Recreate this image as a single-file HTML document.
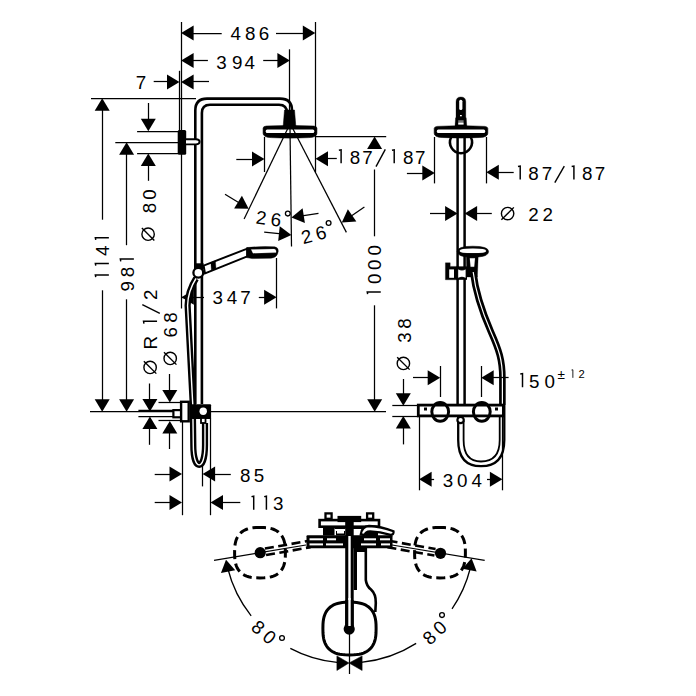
<!DOCTYPE html>
<html><head><meta charset="utf-8"><style>
html,body{margin:0;padding:0;background:#fff;}
svg{display:block;}
text{font-family:"Liberation Sans",sans-serif;text-anchor:middle;fill:#000;stroke:none;}
</style></head><body>
<svg width="696" height="696" viewBox="0 0 696 696" stroke="#000" fill="#000" stroke-linecap="butt">
<rect x="0" y="0" width="696" height="696" fill="#fff" stroke="none"/>
<line x1="181.50" y1="22.00" x2="181.50" y2="308.40" stroke-width="1.25"/>
<line x1="179.50" y1="70.80" x2="179.50" y2="131.00" stroke-width="1.25"/>
<line x1="315.50" y1="22.00" x2="315.50" y2="172.00" stroke-width="1.25"/>
<line x1="289.50" y1="49.30" x2="289.50" y2="112.00" stroke-width="1.25"/>
<line x1="221.70" y1="33.50" x2="188.60" y2="33.50" stroke-width="1.25"/>
<polygon points="181.10,33.00 193.60,25.50 193.60,40.50" stroke="none"/>
<line x1="276.00" y1="33.50" x2="307.80" y2="33.50" stroke-width="1.25"/>
<polygon points="315.30,33.00 302.80,40.50 302.80,25.50" stroke="none"/>
<text transform="translate(235.10,33.20) rotate(0) scale(1.0,1)" x="0.51" y="7.11" style="font-size:18.8px">4</text>
<text transform="translate(249.70,33.20) rotate(0) scale(1.0,1)" x="0.51" y="7.11" style="font-size:18.8px">8</text>
<text transform="translate(263.50,33.20) rotate(0) scale(1.0,1)" x="0.51" y="7.11" style="font-size:18.8px">6</text>
<line x1="207.90" y1="60.50" x2="188.60" y2="60.50" stroke-width="1.25"/>
<polygon points="181.10,60.60 193.60,53.10 193.60,68.10" stroke="none"/>
<line x1="263.20" y1="60.50" x2="282.40" y2="60.50" stroke-width="1.25"/>
<polygon points="289.90,60.60 277.40,68.10 277.40,53.10" stroke="none"/>
<text transform="translate(221.00,61.40) rotate(0) scale(1.0,1)" x="0.51" y="7.11" style="font-size:18.8px">3</text>
<text transform="translate(236.70,61.40) rotate(0) scale(1.0,1)" x="0.51" y="7.11" style="font-size:18.8px">9</text>
<text transform="translate(249.20,61.40) rotate(0) scale(1.0,1)" x="0.51" y="7.11" style="font-size:18.8px">4</text>
<line x1="153.70" y1="81.50" x2="172.00" y2="81.50" stroke-width="1.25"/>
<polygon points="179.50,81.90 167.00,89.40 167.00,74.40" stroke="none"/>
<line x1="209.00" y1="81.50" x2="188.60" y2="81.50" stroke-width="1.25"/>
<polygon points="181.10,81.90 193.60,74.40 193.60,89.40" stroke="none"/>
<text transform="translate(140.40,82.20) rotate(0) scale(1.0,1)" x="0.51" y="7.11" style="font-size:18.8px">7</text>
<line x1="91.00" y1="98.50" x2="196.00" y2="98.50" stroke-width="1.25"/>
<line x1="137.10" y1="131.50" x2="178.00" y2="131.50" stroke-width="1.25"/>
<line x1="115.30" y1="142.50" x2="178.00" y2="142.50" stroke-width="1.25"/>
<line x1="137.10" y1="153.50" x2="178.00" y2="153.50" stroke-width="1.25"/>
<line x1="148.50" y1="103.00" x2="148.50" y2="123.80" stroke-width="1.25"/>
<polygon points="148.30,131.30 140.80,118.80 155.80,118.80" stroke="none"/>
<line x1="148.50" y1="180.80" x2="148.50" y2="160.90" stroke-width="1.25"/>
<polygon points="148.30,153.40 155.80,165.90 140.80,165.90" stroke="none"/>
<text transform="translate(148.60,195.00) rotate(-90) scale(1.0,1)" x="0.51" y="7.11" style="font-size:18.8px">0</text>
<text transform="translate(148.60,208.50) rotate(-90) scale(1.0,1)" x="0.51" y="7.11" style="font-size:18.8px">8</text>
<circle cx="148.10" cy="234.20" r="6.2" fill="none" stroke-width="1.4"/>
<line x1="141.88" y1="227.98" x2="154.32" y2="240.42" stroke-width="1.4"/>
<line x1="102.50" y1="219.70" x2="102.50" y2="105.70" stroke-width="1.25"/>
<polygon points="102.20,98.20 109.70,110.70 94.70,110.70" stroke="none"/>
<line x1="102.50" y1="290.30" x2="102.50" y2="404.20" stroke-width="1.25"/>
<polygon points="102.20,411.70 94.70,399.20 109.70,399.20" stroke="none"/>
<g transform="translate(102.10,238.30) rotate(-90)"><path d="M0.61,6.76 L0.61,-6.76 L-1.63,-6.35" fill="none" stroke-width="1.47" stroke-linejoin="miter"/></g>
<text transform="translate(102.10,251.30) rotate(-90) scale(1.0,1)" x="0.51" y="7.11" style="font-size:18.8px">4</text>
<g transform="translate(102.10,264.00) rotate(-90)"><path d="M0.61,6.76 L0.61,-6.76 L-1.63,-6.35" fill="none" stroke-width="1.47" stroke-linejoin="miter"/></g>
<g transform="translate(102.10,275.50) rotate(-90)"><path d="M0.61,6.76 L0.61,-6.76 L-1.63,-6.35" fill="none" stroke-width="1.47" stroke-linejoin="miter"/></g>
<line x1="126.50" y1="245.20" x2="126.50" y2="149.80" stroke-width="1.25"/>
<polygon points="126.60,142.30 134.10,154.80 119.10,154.80" stroke="none"/>
<line x1="126.50" y1="299.30" x2="126.50" y2="404.20" stroke-width="1.25"/>
<polygon points="126.60,411.70 119.10,399.20 134.10,399.20" stroke="none"/>
<g transform="translate(127.10,259.70) rotate(-90)"><path d="M0.61,6.76 L0.61,-6.76 L-1.63,-6.35" fill="none" stroke-width="1.47" stroke-linejoin="miter"/></g>
<text transform="translate(127.10,272.50) rotate(-90) scale(1.0,1)" x="0.51" y="7.11" style="font-size:18.8px">8</text>
<text transform="translate(127.10,286.80) rotate(-90) scale(1.0,1)" x="0.51" y="7.11" style="font-size:18.8px">9</text>
<text transform="translate(150.30,295.40) rotate(-90) scale(1.0,1)" x="0.51" y="7.11" style="font-size:18.8px">2</text>
<line x1="142.30" y1="304.70" x2="159.80" y2="313.30" stroke-width="1.35"/>
<g transform="translate(150.30,321.90) rotate(-90)"><path d="M0.61,6.76 L0.61,-6.76 L-1.63,-6.35" fill="none" stroke-width="1.47" stroke-linejoin="miter"/></g>
<text transform="translate(150.30,343.30) rotate(-90) scale(1.0,1)" x="0.51" y="7.11" style="font-size:18.8px">R</text>
<circle cx="150.10" cy="367.40" r="6.2" fill="none" stroke-width="1.4"/>
<line x1="143.88" y1="361.18" x2="156.32" y2="373.62" stroke-width="1.4"/>
<line x1="149.50" y1="383.50" x2="149.50" y2="404.10" stroke-width="1.25"/>
<polygon points="149.90,411.60 142.40,399.10 157.40,399.10" stroke="none"/>
<line x1="149.50" y1="444.80" x2="149.50" y2="424.00" stroke-width="1.25"/>
<polygon points="149.90,416.50 157.40,429.00 142.40,429.00" stroke="none"/>
<text transform="translate(170.30,318.10) rotate(-90) scale(1.0,1)" x="0.51" y="7.11" style="font-size:18.8px">8</text>
<text transform="translate(170.30,332.70) rotate(-90) scale(1.0,1)" x="0.51" y="7.11" style="font-size:18.8px">6</text>
<circle cx="170.20" cy="358.40" r="6.2" fill="none" stroke-width="1.4"/>
<line x1="163.98" y1="352.18" x2="176.42" y2="364.62" stroke-width="1.4"/>
<line x1="169.50" y1="374.00" x2="169.50" y2="395.10" stroke-width="1.25"/>
<polygon points="169.80,402.60 162.30,390.10 177.30,390.10" stroke="none"/>
<line x1="169.50" y1="449.00" x2="169.50" y2="428.40" stroke-width="1.25"/>
<polygon points="169.80,420.90 177.30,433.40 162.30,433.40" stroke="none"/>
<line x1="158.50" y1="402.50" x2="181.00" y2="402.50" stroke-width="1.25"/>
<line x1="158.50" y1="420.50" x2="181.00" y2="420.50" stroke-width="1.25"/>
<line x1="138.40" y1="416.50" x2="173.00" y2="416.50" stroke-width="1.25"/>
<line x1="90.00" y1="411.50" x2="173.00" y2="411.50" stroke-width="1.25"/>
<line x1="138.40" y1="410.40" x2="173.00" y2="410.40" stroke-width="1.4"/>
<line x1="211.00" y1="411.50" x2="386.00" y2="411.50" stroke-width="1.25"/>
<path d="M195.3,404 L195.3,110.5 Q195.3,98.6 207,98.6 L280,98.6 Q292,98.6 292,110.5 L292,113" fill="none" stroke-width="2.6" />
<path d="M201.9,404 L201.9,113 Q201.9,104.8 210,104.8 L279,104.8 Q287,104.8 287,113 L287,113" fill="none" stroke-width="2.6" />
<rect x="177.7" y="130" width="8.5" height="24.7" rx="1.5" stroke="none"/>
<path d="M186,139.3 L196,139.3 Q199.6,139.5 199.6,141.8 Q199.6,144.2 196,144.4 L186,144.4" fill="#fff" stroke-width="1.9" />
<polygon points="284.50,110.00 294.50,110.00 295.80,126.00 283.20,126.00" fill="#000" stroke-width="0.5" />
<path d="M263.1,128.10 Q263.1,126.40 266.1,126.10 Q290.0,124.70 313.9,126.10 Q316.9,126.40 316.9,128.10 L316.9,133.30 Q316.9,137.30 308.9,137.60 Q290.0,138.60 271.1,137.60 Q263.1,137.30 263.1,133.30 Z" fill="#000" stroke-width="0.6" />
<rect x="265.70000000000005" y="129.6" width="48.59999999999995" height="3.4000000000000057" rx="1.5" fill="#fff" stroke="none"/>
<line x1="288.00" y1="128.00" x2="244.10" y2="219.00" stroke-width="1.25"/>
<line x1="292.50" y1="128.00" x2="346.40" y2="232.40" stroke-width="1.25"/>
<line x1="290.00" y1="128.00" x2="291.50" y2="246.50" stroke-width="1.25"/>
<line x1="264.50" y1="137.00" x2="264.50" y2="172.00" stroke-width="1.25"/>
<line x1="236.30" y1="159.50" x2="257.00" y2="159.50" stroke-width="1.25"/>
<polygon points="264.50,159.00 252.00,166.50 252.00,151.50" stroke="none"/>
<line x1="336.80" y1="158.50" x2="323.00" y2="158.50" stroke-width="1.25"/>
<polygon points="315.50,158.80 328.00,151.30 328.00,166.30" stroke="none"/>
<g transform="translate(340.50,156.60) rotate(0)"><path d="M0.61,6.76 L0.61,-6.76 L-1.63,-6.35" fill="none" stroke-width="1.47" stroke-linejoin="miter"/></g>
<text transform="translate(354.40,156.60) rotate(0) scale(1.0,1)" x="0.51" y="7.11" style="font-size:18.8px">8</text>
<text transform="translate(367.00,156.60) rotate(0) scale(1.0,1)" x="0.51" y="7.11" style="font-size:18.8px">7</text>
<line x1="376.00" y1="166.60" x2="385.30" y2="149.30" stroke-width="1.4"/>
<g transform="translate(393.60,156.60) rotate(0)"><path d="M0.61,6.76 L0.61,-6.76 L-1.63,-6.35" fill="none" stroke-width="1.47" stroke-linejoin="miter"/></g>
<text transform="translate(407.60,156.60) rotate(0) scale(1.0,1)" x="0.51" y="7.11" style="font-size:18.8px">8</text>
<text transform="translate(419.80,156.60) rotate(0) scale(1.0,1)" x="0.51" y="7.11" style="font-size:18.8px">7</text>
<line x1="316.00" y1="136.50" x2="386.20" y2="136.50" stroke-width="1.25"/>
<polygon points="374.60,136.60 382.10,149.10 367.10,149.10" stroke="none"/>
<line x1="374.50" y1="169.50" x2="374.50" y2="236.30" stroke-width="1.25"/>
<g transform="translate(374.00,292.60) rotate(-90)"><path d="M0.61,6.76 L0.61,-6.76 L-1.63,-6.35" fill="none" stroke-width="1.47" stroke-linejoin="miter"/></g>
<text transform="translate(374.00,279.30) rotate(-90) scale(1.0,1)" x="0.51" y="7.11" style="font-size:18.8px">0</text>
<text transform="translate(374.00,265.20) rotate(-90) scale(1.0,1)" x="0.51" y="7.11" style="font-size:18.8px">0</text>
<text transform="translate(374.00,250.70) rotate(-90) scale(1.0,1)" x="0.51" y="7.11" style="font-size:18.8px">0</text>
<line x1="374.50" y1="305.30" x2="374.50" y2="404.20" stroke-width="1.25"/>
<polygon points="374.70,411.70 367.20,399.20 382.20,399.20" stroke="none"/>
<line x1="225.00" y1="194.30" x2="242.29" y2="204.81" stroke-width="1.25"/>
<polygon points="248.70,208.70 234.12,208.62 241.91,195.80" stroke="none"/>
<line x1="318.50" y1="213.30" x2="298.81" y2="216.35" stroke-width="1.25"/>
<polygon points="291.40,217.50 302.60,208.17 304.90,223.00" stroke="none"/>
<line x1="264.20" y1="232.10" x2="283.94" y2="234.13" stroke-width="1.25"/>
<polygon points="291.40,234.90 278.20,241.08 279.73,226.16" stroke="none"/>
<line x1="364.40" y1="207.00" x2="347.99" y2="218.26" stroke-width="1.25"/>
<polygon points="341.80,222.50 347.87,209.24 356.35,221.62" stroke="none"/>
<text transform="translate(260.70,217.10) rotate(7) scale(1.0,1)" x="0.51" y="7.11" style="font-size:18.8px">2</text>
<text transform="translate(275.50,219.00) rotate(7) scale(1.0,1)" x="0.51" y="7.11" style="font-size:18.8px">6</text>
<circle cx="287.80" cy="213.60" r="2.4" fill="none" stroke-width="1.3"/>
<text transform="translate(306.00,236.20) rotate(-15) scale(1.0,1)" x="0.51" y="7.11" style="font-size:18.8px">2</text>
<text transform="translate(320.10,232.30) rotate(-15) scale(1.0,1)" x="0.51" y="7.11" style="font-size:18.8px">6</text>
<circle cx="328.60" cy="223.00" r="2.4" fill="none" stroke-width="1.3"/>
<polygon points="203.60,265.60 247.30,248.60 247.30,256.40 205.00,273.40" fill="#fff" stroke-width="2.0" />
<polygon points="210.80,262.60 215.40,260.80 216.00,268.40 211.40,270.20" fill="#000" stroke-width="0.3" />
<path d="M246.5,247.6 Q262,245.8 274.6,246.8 Q278.6,247.6 278.2,251.5 Q277.4,257.6 271,258.2 L252,258.6 L246.5,257.6 Z" fill="#000" stroke-width="0.4" />
<path d="M251.2,249.6 L274.2,249.1 Q276.6,249.6 276,252.6 L253,253.2 Z" fill="#fff" stroke-width="0.2" stroke="#fff"/>
<rect x="194" y="263.3" width="9.6" height="5.9" stroke="none"/>
<circle cx="198.3" cy="272.8" r="4.9" fill="#fff" stroke-width="2.3"/>
<line x1="276.50" y1="258.00" x2="276.50" y2="308.40" stroke-width="1.25"/>
<polygon points="181.40,297.20 193.90,289.70 193.90,304.70" stroke="none"/>
<line x1="181.40" y1="297.50" x2="204.00" y2="297.50" stroke-width="1.25"/>
<line x1="258.80" y1="297.50" x2="269.10" y2="297.50" stroke-width="1.25"/>
<polygon points="276.60,297.20 264.10,304.70 264.10,289.70" stroke="none"/>
<text transform="translate(217.30,297.10) rotate(0) scale(1.0,1)" x="0.51" y="7.11" style="font-size:18.8px">3</text>
<text transform="translate(231.50,297.10) rotate(0) scale(1.0,1)" x="0.51" y="7.11" style="font-size:18.8px">4</text>
<text transform="translate(245.00,297.10) rotate(0) scale(1.0,1)" x="0.51" y="7.11" style="font-size:18.8px">7</text>
<path d="M196,278.5 Q188,291 187.6,305.5 L192.8,405 L193.3,445 C193.3,471.5 205,471.5 205,445 L205,423" fill="none" stroke-width="6.2" />
<path d="M196,278.5 Q188,291 187.6,305.5 L192.8,405 L193.3,445 C193.3,471.5 205,471.5 205,445 L205,423" fill="none" stroke-width="1.4" stroke="#fff"/>
<rect x="173.4" y="410.1" width="7.7" height="7.2" fill="#fff" stroke-width="2.2"/>
<rect x="181.1" y="401.8" width="7.6" height="19.5" fill="#fff" stroke-width="2.4"/>
<rect x="191.5" y="404.3" width="19.6" height="14.8" rx="1" stroke="none"/>
<rect x="201" y="418" width="4.5" height="5" fill="#fff" stroke-width="1.8"/>
<circle cx="203.2" cy="411.3" r="3.7" fill="#fff" stroke="none"/>
<line x1="182.50" y1="421.00" x2="182.50" y2="515.20" stroke-width="1.25"/>
<line x1="202.50" y1="466.00" x2="202.50" y2="486.40" stroke-width="1.25"/>
<line x1="210.50" y1="418.00" x2="210.50" y2="515.20" stroke-width="1.25"/>
<line x1="154.70" y1="474.50" x2="174.50" y2="474.50" stroke-width="1.25"/>
<polygon points="182.00,474.00 169.50,481.50 169.50,466.50" stroke="none"/>
<line x1="230.80" y1="474.50" x2="210.10" y2="474.50" stroke-width="1.25"/>
<polygon points="202.60,474.00 215.10,466.50 215.10,481.50" stroke="none"/>
<text transform="translate(244.70,474.60) rotate(0) scale(1.0,1)" x="0.51" y="7.11" style="font-size:18.8px">8</text>
<text transform="translate(258.50,474.60) rotate(0) scale(1.0,1)" x="0.51" y="7.11" style="font-size:18.8px">5</text>
<line x1="154.70" y1="502.50" x2="174.50" y2="502.50" stroke-width="1.25"/>
<polygon points="182.00,502.40 169.50,509.90 169.50,494.90" stroke="none"/>
<line x1="240.30" y1="502.50" x2="218.00" y2="502.50" stroke-width="1.25"/>
<polygon points="210.50,502.40 223.00,494.90 223.00,509.90" stroke="none"/>
<g transform="translate(253.10,503.00) rotate(0)"><path d="M0.61,6.76 L0.61,-6.76 L-1.63,-6.35" fill="none" stroke-width="1.47" stroke-linejoin="miter"/></g>
<g transform="translate(265.80,503.00) rotate(0)"><path d="M0.61,6.76 L0.61,-6.76 L-1.63,-6.35" fill="none" stroke-width="1.47" stroke-linejoin="miter"/></g>
<text transform="translate(277.80,503.00) rotate(0) scale(1.0,1)" x="0.51" y="7.11" style="font-size:18.8px">3</text>
<path d="M456,125.6 L456,101.8 Q456,96.9 460.9,96.9 Q465.8,96.9 465.8,101.8 L465.8,125.6 Z" fill="#000" stroke-width="0.3" />
<polygon points="455.60,117.80 466.20,117.80 466.80,126.00 455.00,126.00" fill="#000" stroke-width="0.3" />
<rect x="459.2" y="99.8" width="3.2" height="10.3" rx="1.5" fill="#fff" stroke="none"/>
<rect x="458.2" y="122.4" width="5.4" height="2.2" fill="#fff" stroke="none"/>
<rect x="458.2" y="120.2" width="5.4" height="1.8" fill="#777" stroke="none"/>
<rect x="460" y="115" width="1.8" height="1.3" fill="#fff" stroke="none"/>
<path d="M451.3,137 A11,11 0 1 0 470.7,137" fill="none" stroke-width="2.5" />
<line x1="457.60" y1="136.00" x2="457.60" y2="405.00" stroke-width="2.5"/>
<line x1="464.60" y1="136.00" x2="464.60" y2="405.00" stroke-width="2.5"/>
<path d="M434.2,128.40 Q434.2,126.70 437.2,126.40 Q461.0,125.00 484.8,126.40 Q487.8,126.70 487.8,128.40 L487.8,133.20 Q487.8,137.20 479.8,137.50 Q461.0,138.50 442.2,137.50 Q434.2,137.20 434.2,133.20 Z" fill="#000" stroke-width="0.6" />
<rect x="436.8" y="129.4" width="48.40000000000002" height="3.5999999999999943" rx="1.5" fill="#fff" stroke="none"/>
<line x1="434.50" y1="137.00" x2="434.50" y2="183.40" stroke-width="1.25"/>
<line x1="486.50" y1="137.00" x2="486.50" y2="183.40" stroke-width="1.25"/>
<line x1="406.90" y1="173.50" x2="427.30" y2="173.50" stroke-width="1.25"/>
<polygon points="434.80,173.00 422.30,180.50 422.30,165.50" stroke="none"/>
<line x1="513.70" y1="172.50" x2="493.80" y2="172.50" stroke-width="1.25"/>
<polygon points="486.30,172.30 498.80,164.80 498.80,179.80" stroke="none"/>
<g transform="translate(519.60,172.80) rotate(0)"><path d="M0.61,6.76 L0.61,-6.76 L-1.63,-6.35" fill="none" stroke-width="1.47" stroke-linejoin="miter"/></g>
<text transform="translate(533.00,172.80) rotate(0) scale(1.0,1)" x="0.51" y="7.11" style="font-size:18.8px">8</text>
<text transform="translate(546.50,172.80) rotate(0) scale(1.0,1)" x="0.51" y="7.11" style="font-size:18.8px">7</text>
<line x1="554.80" y1="182.70" x2="564.30" y2="166.10" stroke-width="1.4"/>
<g transform="translate(573.30,172.80) rotate(0)"><path d="M0.61,6.76 L0.61,-6.76 L-1.63,-6.35" fill="none" stroke-width="1.47" stroke-linejoin="miter"/></g>
<text transform="translate(586.80,172.80) rotate(0) scale(1.0,1)" x="0.51" y="7.11" style="font-size:18.8px">8</text>
<text transform="translate(599.50,172.80) rotate(0) scale(1.0,1)" x="0.51" y="7.11" style="font-size:18.8px">7</text>
<line x1="430.00" y1="213.50" x2="450.10" y2="213.50" stroke-width="1.25"/>
<polygon points="457.60,213.50 445.10,221.00 445.10,206.00" stroke="none"/>
<line x1="491.80" y1="213.50" x2="472.10" y2="213.50" stroke-width="1.25"/>
<polygon points="464.60,213.50 477.10,206.00 477.10,221.00" stroke="none"/>
<circle cx="507.60" cy="213.60" r="6.2" fill="none" stroke-width="1.4"/>
<line x1="501.38" y1="219.82" x2="513.82" y2="207.38" stroke-width="1.4"/>
<text transform="translate(533.00,213.50) rotate(0) scale(1.0,1)" x="0.51" y="7.11" style="font-size:18.8px">2</text>
<text transform="translate(547.30,213.50) rotate(0) scale(1.0,1)" x="0.51" y="7.11" style="font-size:18.8px">2</text>
<path d="M457.2,251.6 Q457.2,246.2 472.8,246.2 Q488.6,246.2 488.6,251.6 Q488.6,257.2 472.8,257.2 Q457.2,257.2 457.2,251.6 Z" fill="#000" stroke-width="0.5" />
<path d="M459.6,250.9 Q459.6,248.6 472.8,248.6 Q486.2,248.6 486.2,250.9 Q486.2,253.1 472.8,253.1 Q459.6,253.1 459.6,250.9 Z" fill="#fff" stroke-width="0.1" stroke="#fff"/>
<polygon points="466.30,256.50 478.20,256.50 477.40,277.00 466.80,277.00" fill="#000" stroke-width="0.3" />
<polygon points="469.80,258.20 475.00,258.20 474.20,266.80 470.60,266.80" fill="#fff" stroke-width="0.1" stroke="#fff"/>
<polygon points="445.40,262.80 450.20,262.80 450.20,266.40 458.40,266.40 458.40,279.80 445.40,279.80" fill="#000" stroke-width="0.3" />
<rect x="449.2" y="269.4" width="4.8" height="8.4" fill="#fff" stroke="none"/>
<rect x="456.5" y="266.4" width="10.5" height="13.4" stroke="none"/>
<path d="M458.2,269.4 Q462,271.4 465.6,269.4 L465.6,277.8 Q462,275.8 458.2,277.8 Z" fill="#fff" stroke-width="0.1" stroke="#fff"/>
<path d="M473.2,272 C475.5,292 484,316 491,332 C499,350 502.4,360 502.4,378 L502.4,405" fill="none" stroke-width="6.6" />
<path d="M473.2,272 C475.5,292 484,316 491,332 C499,350 502.4,360 502.4,378 L502.4,405" fill="none" stroke-width="1.2" stroke="#fff"/>
<line x1="440.50" y1="366.00" x2="440.50" y2="397.00" stroke-width="1.25"/>
<line x1="481.50" y1="366.00" x2="481.50" y2="397.00" stroke-width="1.25"/>
<line x1="413.00" y1="377.50" x2="432.70" y2="377.50" stroke-width="1.25"/>
<polygon points="440.20,377.80 427.70,385.30 427.70,370.30" stroke="none"/>
<line x1="508.60" y1="377.50" x2="488.70" y2="377.50" stroke-width="1.25"/>
<polygon points="481.20,377.80 493.70,370.30 493.70,385.30" stroke="none"/>
<g transform="translate(521.90,380.40) rotate(0)"><path d="M0.61,6.76 L0.61,-6.76 L-1.63,-6.35" fill="none" stroke-width="1.47" stroke-linejoin="miter"/></g>
<text transform="translate(533.80,380.40) rotate(0) scale(1.0,1)" x="0.51" y="7.11" style="font-size:18.8px">5</text>
<text transform="translate(549.20,380.40) rotate(0) scale(1.0,1)" x="0.51" y="7.11" style="font-size:18.8px">0</text>
<text transform="translate(560.80,373.50) rotate(0) scale(1.0,1)" x="0.36" y="5.11" style="font-size:13.5px">±</text>
<g transform="translate(572.50,373.80) rotate(0)"><path d="M0.36,4.03 L0.36,-4.03 L-0.97,-3.78" fill="none" stroke-width="0.88" stroke-linejoin="miter"/></g>
<text transform="translate(581.20,373.80) rotate(0) scale(1.0,1)" x="0.30" y="4.24" style="font-size:11.2px">2</text>
<line x1="392.30" y1="405.50" x2="418.50" y2="405.50" stroke-width="1.25"/>
<line x1="392.30" y1="416.50" x2="418.50" y2="416.50" stroke-width="1.25"/>
<line x1="403.50" y1="379.00" x2="403.50" y2="398.30" stroke-width="1.25"/>
<polygon points="403.30,405.80 395.80,393.30 410.80,393.30" stroke="none"/>
<line x1="403.50" y1="444.40" x2="403.50" y2="423.60" stroke-width="1.25"/>
<polygon points="403.30,416.10 410.80,428.60 395.80,428.60" stroke="none"/>
<text transform="translate(404.00,324.00) rotate(-90) scale(1.0,1)" x="0.51" y="7.11" style="font-size:18.8px">8</text>
<text transform="translate(404.00,338.10) rotate(-90) scale(1.0,1)" x="0.51" y="7.11" style="font-size:18.8px">3</text>
<circle cx="403.40" cy="363.40" r="6.2" fill="none" stroke-width="1.4"/>
<line x1="397.18" y1="357.18" x2="409.62" y2="369.62" stroke-width="1.4"/>
<path d="M458.2,417 L458.2,440 Q458.2,466.2 481,466.2 Q504.3,466.2 504.3,440 L504.3,405" fill="none" stroke-width="2.3" />
<path d="M463.6,421 L463.6,440 Q463.6,461.5 481,461.5 Q499.7,461.5 499.7,440 L499.7,405" fill="none" stroke-width="1.8" />
<rect x="418.3" y="405.1" width="85.1" height="10.8" fill="#fff" stroke-width="2.8"/>
<ellipse cx="440.2" cy="411.8" rx="8.4" ry="9.4" fill="none" stroke-width="3.0"/>
<ellipse cx="481.8" cy="411.8" rx="8.4" ry="9.4" fill="none" stroke-width="3.0"/>
<rect x="424" y="407.5" width="3" height="3" stroke="none"/>
<rect x="495" y="407.5" width="3" height="3" stroke="none"/>
<circle cx="460.6" cy="420" r="3.2" fill="#fff" stroke-width="2.2"/>
<line x1="419.50" y1="416.00" x2="419.50" y2="490.30" stroke-width="1.25"/>
<line x1="502.50" y1="416.00" x2="502.50" y2="490.30" stroke-width="1.25"/>
<line x1="434.10" y1="479.50" x2="426.60" y2="479.50" stroke-width="1.25"/>
<polygon points="419.10,479.30 431.60,471.80 431.60,486.80" stroke="none"/>
<line x1="487.00" y1="479.50" x2="494.90" y2="479.50" stroke-width="1.25"/>
<polygon points="502.40,479.30 489.90,486.80 489.90,471.80" stroke="none"/>
<text transform="translate(447.50,479.50) rotate(0) scale(1.0,1)" x="0.51" y="7.11" style="font-size:18.8px">3</text>
<text transform="translate(461.70,479.50) rotate(0) scale(1.0,1)" x="0.51" y="7.11" style="font-size:18.8px">0</text>
<text transform="translate(476.10,479.50) rotate(0) scale(1.0,1)" x="0.51" y="7.11" style="font-size:18.8px">4</text>
<path d="M227.71,568.24 A125,125 0 0 0 251.17,615.81" fill="none" stroke-width="1.3" />
<path d="M290.32,648.37 A125,125 0 0 0 337.02,662.42" fill="none" stroke-width="1.3" />
<path d="M360.98,662.42 A125,125 0 0 0 416.16,643.42" fill="none" stroke-width="1.3" />
<path d="M452.02,608.80 A125,125 0 0 0 470.29,568.24" fill="none" stroke-width="1.3" />
<polygon points="226.00,559.80 235.23,570.36 220.95,572.88" stroke="none"/>
<polygon points="471.60,558.30 476.65,571.38 462.37,568.86" stroke="none"/>
<polygon points="349.00,663.00 336.90,655.90 336.90,670.50" fill="#000" stroke-width="0.5" />
<polygon points="349.00,663.00 362.10,655.90 362.10,670.50" fill="#000" stroke-width="0.5" />
<line x1="349.50" y1="629.00" x2="349.50" y2="674.00" stroke-width="1.25"/>
<line x1="214.00" y1="560.40" x2="306.00" y2="545.00" stroke-width="1.25"/>
<line x1="392.00" y1="545.00" x2="484.70" y2="560.40" stroke-width="1.25"/>
<path d="M260.00,527.50 L264.17,527.57 L266.94,527.78 L269.33,528.14 L271.47,528.63 L273.42,529.27 L275.20,530.05 L276.83,530.96 L278.31,532.01 L279.65,533.21 L280.85,534.54 L281.91,536.01 L282.83,537.62 L283.61,539.39 L284.26,541.32 L284.76,543.44 L285.11,545.81 L285.33,548.57 L285.40,552.70 L285.33,556.83 L285.11,559.59 L284.76,561.96 L284.26,564.08 L283.61,566.01 L282.83,567.78 L281.91,569.39 L280.85,570.86 L279.65,572.19 L278.31,573.39 L276.83,574.44 L275.20,575.35 L273.42,576.13 L271.47,576.77 L269.33,577.26 L266.94,577.62 L264.17,577.83 L260.00,577.90 L255.83,577.83 L253.06,577.62 L250.67,577.26 L248.53,576.77 L246.58,576.13 L244.80,575.35 L243.17,574.44 L241.69,573.39 L240.35,572.19 L239.15,570.86 L238.09,569.39 L237.17,567.78 L236.39,566.01 L235.74,564.08 L235.24,561.96 L234.89,559.59 L234.67,556.83 L234.60,552.70 L234.67,548.57 L234.89,545.81 L235.24,543.44 L235.74,541.32 L236.39,539.39 L237.17,537.62 L238.09,536.01 L239.15,534.54 L240.35,533.21 L241.69,532.01 L243.17,530.96 L244.80,530.05 L246.58,529.27 L248.53,528.63 L250.67,528.14 L253.06,527.78 L255.83,527.57 Z" fill="none" stroke-width="3.0" stroke-dasharray="9 4.6" stroke-dashoffset="3"/>
<path d="M440.00,527.50 L444.17,527.57 L446.94,527.78 L449.33,528.14 L451.47,528.63 L453.42,529.27 L455.20,530.05 L456.83,530.96 L458.31,532.01 L459.65,533.21 L460.85,534.54 L461.91,536.01 L462.83,537.62 L463.61,539.39 L464.26,541.32 L464.76,543.44 L465.11,545.81 L465.33,548.57 L465.40,552.70 L465.33,556.83 L465.11,559.59 L464.76,561.96 L464.26,564.08 L463.61,566.01 L462.83,567.78 L461.91,569.39 L460.85,570.86 L459.65,572.19 L458.31,573.39 L456.83,574.44 L455.20,575.35 L453.42,576.13 L451.47,576.77 L449.33,577.26 L446.94,577.62 L444.17,577.83 L440.00,577.90 L435.83,577.83 L433.06,577.62 L430.67,577.26 L428.53,576.77 L426.58,576.13 L424.80,575.35 L423.17,574.44 L421.69,573.39 L420.35,572.19 L419.15,570.86 L418.09,569.39 L417.17,567.78 L416.39,566.01 L415.74,564.08 L415.24,561.96 L414.89,559.59 L414.67,556.83 L414.60,552.70 L414.67,548.57 L414.89,545.81 L415.24,543.44 L415.74,541.32 L416.39,539.39 L417.17,537.62 L418.09,536.01 L419.15,534.54 L420.35,533.21 L421.69,532.01 L423.17,530.96 L424.80,530.05 L426.58,529.27 L428.53,528.63 L430.67,528.14 L433.06,527.78 L435.83,527.57 Z" fill="none" stroke-width="3.0" stroke-dasharray="9 4.6" stroke-dashoffset="3"/>
<circle cx="260.2" cy="552.7" r="5.6" stroke="none"/>
<circle cx="440.5" cy="553.3" r="5.6" stroke="none"/>
<line x1="266.07" y1="555.05" x2="310.57" y2="547.25" stroke-width="2.6" stroke-dasharray="9 4.5"/>
<line x1="264.93" y1="548.55" x2="309.43" y2="540.75" stroke-width="2.6" stroke-dasharray="9 4.5"/>
<line x1="387.43" y1="547.25" x2="434.43" y2="555.55" stroke-width="2.6" stroke-dasharray="9 4.5"/>
<line x1="388.57" y1="540.75" x2="435.57" y2="549.05" stroke-width="2.6" stroke-dasharray="9 4.5"/>
<rect x="325.5" y="513.4" width="6.1" height="5.4" fill="#fff" stroke-width="2.3"/>
<rect x="367.1" y="513.4" width="6.1" height="5.4" fill="#fff" stroke-width="2.3"/>
<rect x="319.6" y="520.1" width="59.4" height="6.6" fill="#fff" stroke-width="2.6"/>
<rect x="337.5" y="515.9" width="23.7" height="6.2" stroke="none"/>
<rect x="323" y="526" width="11.5" height="9.5" stroke="none"/>
<rect x="334.5" y="526" width="11" height="3" stroke="none"/>
<rect x="352" y="526" width="14" height="3" stroke="none"/>
<rect x="336" y="531" width="9" height="4.5" stroke="none"/>
<rect x="366" y="528" width="12" height="8" stroke="none"/>
<rect x="306.5" y="535.2" width="86" height="13" rx="1" stroke="none"/>
<rect x="309.5" y="538.3" width="13.5" height="2.0" fill="#fff" stroke="none"/>
<rect x="327" y="538.3" width="9" height="2.0" fill="#fff" stroke="none"/>
<rect x="364" y="538.3" width="12" height="2.0" fill="#fff" stroke="none"/>
<rect x="380" y="538.3" width="10" height="2.0" fill="#fff" stroke="none"/>
<rect x="309.5" y="543.4" width="13.5" height="2.0" fill="#fff" stroke="none"/>
<rect x="326" y="543.4" width="17" height="2.0" fill="#fff" stroke="none"/>
<rect x="361" y="543.4" width="15" height="2.0" fill="#fff" stroke="none"/>
<rect x="381" y="543.4" width="9" height="2.0" fill="#fff" stroke="none"/>
<rect x="337" y="531" width="7" height="2.5" fill="#fff" stroke="none"/>
<rect x="354" y="531" width="5" height="3" fill="#fff" stroke="none"/>
<path d="M360.8,534.5 Q361.8,526.3 369,526 Q381,526.3 393.5,531.3 Q394,534.8 390.5,534.8 Q380,531.8 370,531.4 Q365.5,531.4 364.8,535 Z" fill="#fff" stroke-width="2.3" />
<rect x="345.2" y="521" width="8.5" height="108" stroke="none"/>
<rect x="348.3" y="536" width="2.4" height="90" fill="#fff" stroke="none"/>
<circle cx="349.2" cy="629.1" r="5.6" stroke="none"/>
<path d="M355.5,548.5 L365.8,548.5 L365.8,580 Q366.5,586 371,589.5 Q376,594 375.8,603 L375.3,612" fill="none" stroke-width="2.6" />
<rect x="353.7" y="548" width="3.3" height="42" stroke="none"/>
<rect x="355" y="548" width="11" height="4" stroke="none"/>
<path d="M349.50,602.30 L353.86,602.37 L356.77,602.60 L359.27,602.97 L361.52,603.48 L363.55,604.15 L365.42,604.96 L367.12,605.91 L368.67,607.01 L370.08,608.25 L371.33,609.64 L372.45,611.18 L373.41,612.86 L374.23,614.70 L374.90,616.72 L375.43,618.94 L375.80,621.41 L376.02,624.28 L376.10,628.60 L376.02,632.92 L375.80,635.79 L375.43,638.26 L374.90,640.48 L374.23,642.50 L373.41,644.34 L372.45,646.02 L371.33,647.56 L370.08,648.95 L368.67,650.19 L367.12,651.29 L365.42,652.24 L363.55,653.05 L361.52,653.72 L359.27,654.23 L356.77,654.60 L353.86,654.83 L349.50,654.90 L345.14,654.83 L342.23,654.60 L339.73,654.23 L337.48,653.72 L335.45,653.05 L333.58,652.24 L331.88,651.29 L330.33,650.19 L328.92,648.95 L327.67,647.56 L326.55,646.02 L325.59,644.34 L324.77,642.50 L324.10,640.48 L323.57,638.26 L323.20,635.79 L322.98,632.92 L322.90,628.60 L322.98,624.28 L323.20,621.41 L323.57,618.94 L324.10,616.72 L324.77,614.70 L325.59,612.86 L326.55,611.18 L327.67,609.64 L328.92,608.25 L330.33,607.01 L331.88,605.91 L333.58,604.96 L335.45,604.15 L337.48,603.48 L339.73,602.97 L342.23,602.60 L345.14,602.37 Z" fill="none" stroke-width="3.0" />
<rect x="345.2" y="600" width="8.5" height="29" stroke="none"/>
<rect x="348.3" y="598" width="2.4" height="28" fill="#fff" stroke="none"/>
<text transform="translate(258.30,626.50) rotate(40) scale(1.0,1)" x="0.51" y="7.11" style="font-size:18.8px">8</text>
<text transform="translate(269.40,636.30) rotate(40) scale(1.0,1)" x="0.51" y="7.11" style="font-size:18.8px">0</text>
<circle cx="282.00" cy="638.00" r="2.4" fill="none" stroke-width="1.3"/>
<text transform="translate(428.50,637.50) rotate(-43) scale(1.0,1)" x="0.51" y="7.11" style="font-size:18.8px">8</text>
<text transform="translate(439.10,627.70) rotate(-43) scale(1.0,1)" x="0.51" y="7.11" style="font-size:18.8px">0</text>
<circle cx="442.00" cy="615.10" r="2.4" fill="none" stroke-width="1.3"/>
</svg></body></html>
